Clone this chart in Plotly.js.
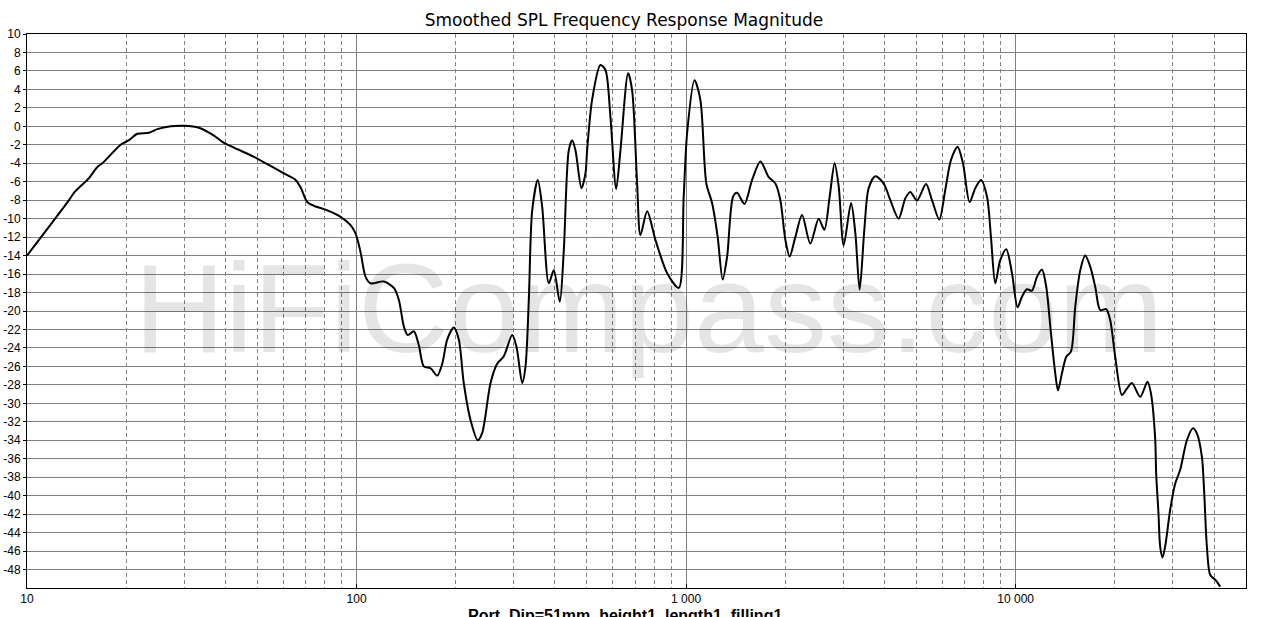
<!DOCTYPE html>
<html>
<head>
<meta charset="utf-8">
<script src="https://cdn.plot.ly/plotly-3.0.1.min.js"></script>
<style>
html,body{margin:0;padding:0;background:#fff;}
#chart{width:1276px;height:617px;}
</style>
</head>
<body>
<div id="chart"></div>
<script>
// Frequency (Hz) and smoothed SPL (dB)
const freq = [10,13.41,13.88,15.42,16.35,16.93,19.24,20.39,21.62,23.44,24.86,27.29,29.94,33.24,36.92,39.59,42.45,48.81,53.6,60.2,65.31,67.64,70.87,74.21,81.5,89.44,95.9,99.3,102.8,106.5,110.3,121,129.8,134.4,139.2,143,149.2,154.5,160,167.7,175.7,182,188.4,197.3,204.3,211.5,221.7,233.3,240.6,255,267.2,279.8,296.7,305.8,318.2,325.6,333.2,341.2,354.8,365.8,383.1,396.7,413.7,425.5,440.5,451.1,461.6,481.4,495,500.8,518.6,549.6,569.2,589.4,613.4,632.1,666.9,685.8,710.2,726.8,761.6,807.1,875.9,950,983.4,1007,1060,1105,1152,1199,1247,1291,1332,1389,1428,1503,1586,1681,1781,1866,1932,2001,2062,2145,2248,2382,2525,2627,2727,2823,2904,3007,3166,3263,3362,3474,3580,3751,3977,4166,4414,4626,4790,5018,5345,5574,5865,6115,6364,6664,6920,7246,7541,7847,8185,8416,8672,8980,9365,9745,10134,10450,10820,11205,11604,12019,12384,12796,13188,13440,13820,14243,14717,15167,15703,16261,16840,17440,18056,18830,19364,20050,21010,21760,22530,23880,25125,25730,26505,26690,27125,27445,27890,28420,29430,30480,31570,33080,34500,35480,36740,37340,38040,38940,40320,41750];
const spl = [-14.0,-8.0,-7.2,-5.6,-4.4,-4.0,-2.0,-1.5,-0.8,-0.7,-0.3,0.0,0.05,-0.15,-1.0,-1.8,-2.3,-3.3,-4.1,-5.1,-5.8,-6.6,-8.2,-8.6,-9.1,-9.8,-10.7,-11.6,-13.6,-16.3,-17.0,-16.8,-17.5,-18.8,-21.7,-22.6,-22.2,-23.7,-26.0,-26.2,-27.0,-25.7,-23.1,-21.8,-23.1,-27.8,-31.8,-34.0,-33.2,-27.8,-25.7,-24.9,-22.6,-23.9,-27.8,-26.0,-18.8,-9.1,-5.8,-8.7,-17.0,-15.6,-19.0,-13.4,-2.6,-1.5,-2.6,-6.7,-5.1,-2.6,2.9,6.64,6.1,1.0,-6.8,-2.6,5.74,3.9,-6.2,-11.8,-9.2,-12.3,-15.9,-17.5,-7.6,-0.75,5.0,2.85,-6.2,-8.3,-12.0,-16.6,-14.1,-7.6,-7.2,-8.4,-5.8,-3.8,-5.5,-6.2,-8.0,-12.3,-14.1,-12.0,-9.6,-12.7,-10.0,-11.2,-7.6,-4.0,-6.5,-12.9,-8.3,-11.6,-17.7,-11.2,-6.7,-5.4,-6.2,-8.0,-10.0,-7.8,-7.1,-8.05,-6.25,-8.0,-10.1,-6.9,-3.65,-2.2,-4.0,-8.2,-6.7,-5.8,-7.6,-12.0,-17.0,-14.5,-13.3,-15.9,-19.6,-18.45,-17.65,-17.8,-16.3,-15.5,-17.4,-22.4,-26.75,-28.6,-26.75,-24.95,-24.4,-19.5,-15.6,-14.0,-15.2,-17.4,-19.9,-19.8,-21.0,-24.95,-29.1,-28.4,-27.8,-29.3,-27.65,-28.9,-33.8,-37.6,-41.9,-45.5,-46.7,-45.5,-41.55,-38.7,-37.2,-34.0,-32.7,-33.25,-35.8,-39.7,-45.5,-48.6,-49.1,-49.85];

const xMajorVals = [10,100,1000,10000];
const xMajorText = ["10","100","1 000","10 000"];
const xMinorVals = [20,30,40,50,60,70,80,90,200,300,400,500,600,700,800,900,2000,3000,4000,5000,6000,7000,8000,9000,20000,30000,40000];
const yTickVals = [10,8,6,4,2,0,-2,-4,-6,-8,-10,-12,-14,-16,-18,-20,-22,-24,-26,-28,-30,-32,-34,-36,-38,-40,-42,-44,-46,-48];
const yTickText = yTickVals.map(v => String(v));

const chartTitle = "Smoothed SPL Frequency Response Magnitude";
const traceName = "Port_Dip=51mm_height1_length1_filling1";
const watermark = "HiFiCompass.com";

const trace = {
  x: freq, y: spl, type: 'scatter', mode: 'lines',
  line: {color: '#000000', width: 2, shape: 'spline', smoothing: 0.8},
  hoverinfo: 'x+y', showlegend: false
};

const grid = '#808080';
const layout = {
  width: 1276, height: 617,
  margin: {l: 27, r: 30, t: 34, b: 29, pad: 0},
  paper_bgcolor: '#ffffff', plot_bgcolor: '#ffffff',
  font: {family: 'Liberation Sans, Arial, sans-serif', size: 12, color: '#000'},
  title: {text: chartTitle, font: {family: 'DejaVu Sans, Verdana, sans-serif', size: 17, color: '#000'},
          x: 0.489, xanchor: 'center', y: 1 - 20/617, yanchor: 'middle', yref: 'container', xref: 'container'},
  xaxis: {
    type: 'log', range: [1, Math.log10(50000)],
    tickvals: xMajorVals, ticktext: xMajorText,
    ticks: 'inside', ticklen: 4, tickcolor: '#000', tickwidth: 1,
    showgrid: true, gridcolor: grid, gridwidth: 1,
    minor: {tickvals: xMinorVals, showgrid: true, gridcolor: grid, gridwidth: 1, griddash: '4px,3px', ticks: ''},
    showline: true, linecolor: '#000', linewidth: 1, mirror: true,
    zeroline: false, tickfont: {size: 12}, fixedrange: true
  },
  yaxis: {
    range: [-50, 10], tickvals: yTickVals, ticktext: yTickText,
    ticks: 'outside', ticklen: 3, tickcolor: '#000', tickwidth: 1,
    showgrid: true, gridcolor: grid, gridwidth: 1,
    showline: true, linecolor: '#000', linewidth: 1, mirror: true,
    zeroline: false, tickfont: {size: 12}, fixedrange: true
  },
  annotations: [
    {text: watermark, xref: 'paper', yref: 'paper', x: 0.5095, y: 0.5054, xanchor: 'center', yanchor: 'middle',
     showarrow: false, font: {family: 'Liberation Sans, Arial, sans-serif', size: 126, color: 'rgba(0,0,0,0.1)'}},
    {text: traceName, xref: 'paper', yref: 'paper', x: (625-27)/1219, y: -(605-588)/554, xanchor: 'center', yanchor: 'top',
     showarrow: false, font: {family: 'Liberation Sans, Arial, sans-serif', size: 16, color: '#000', weight: 'bold'}}
  ]
};

Plotly.newPlot('chart', [trace], layout, {displayModeBar: false, staticPlot: true});
</script>
</body>
</html>
